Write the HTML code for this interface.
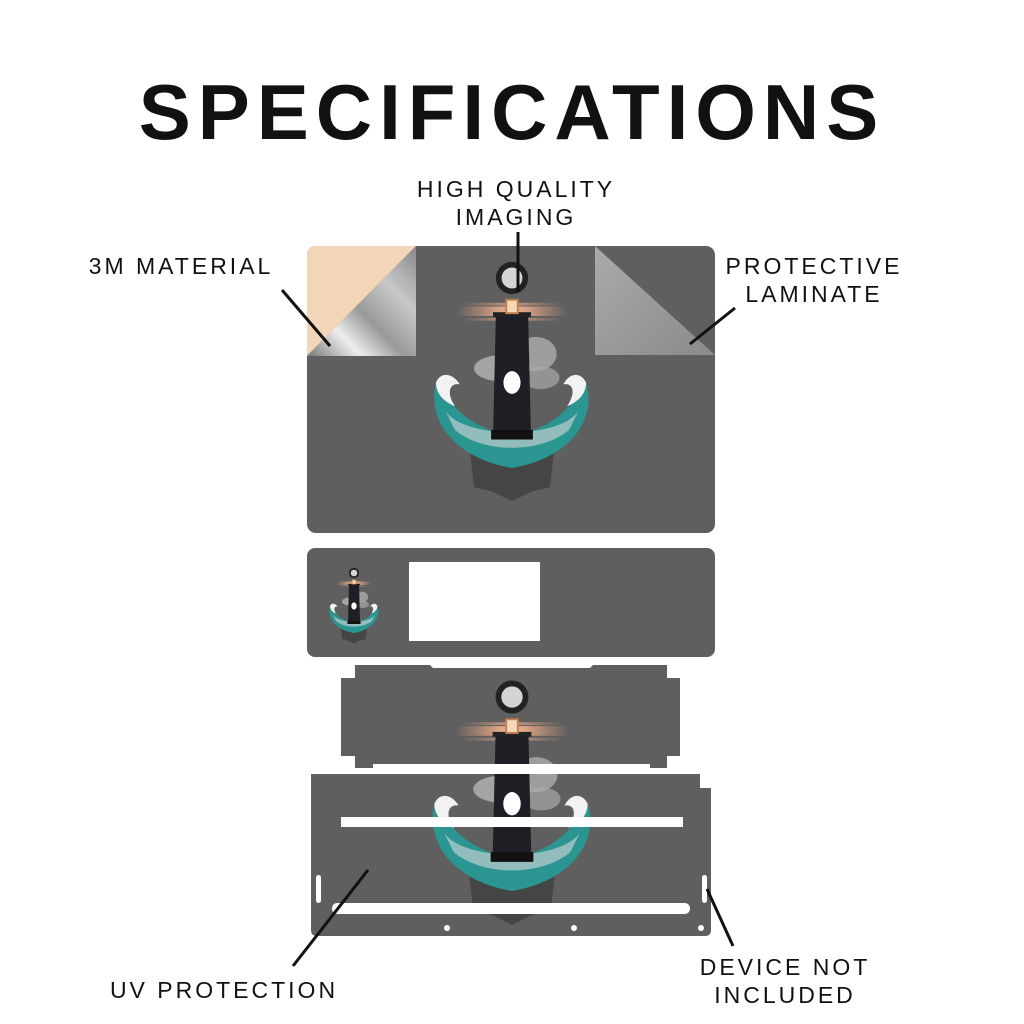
<!DOCTYPE html>
<html><head><meta charset="utf-8"><style>
html,body{margin:0;padding:0;background:#fff;}
body{width:1024px;height:1024px;position:relative;overflow:hidden;font-family:"Liberation Sans",sans-serif;}
.t{position:absolute;color:#111;font-size:23px;letter-spacing:3px;text-align:center;line-height:28px;white-space:nowrap;}
h1{position:absolute;left:0;width:1024px;top:62px;margin:0;text-align:center;font-size:78px;font-weight:900;letter-spacing:7px;color:#111;line-height:100px;}
</style></head><body>
<h1>SPECIFICATIONS</h1>
<svg width="1024" height="1024" style="position:absolute;left:0;top:0">
<defs>
<linearGradient id="curl" x1="0" y1="1" x2="1" y2="0">
<stop offset="0" stop-color="#777"/><stop offset=".25" stop-color="#eee"/><stop offset=".45" stop-color="#999"/><stop offset=".7" stop-color="#c8c8c8"/><stop offset="1" stop-color="#888"/></linearGradient>
<linearGradient id="lam" x1="0" y1="0" x2="1" y2="1">
<stop offset="0" stop-color="#aaa"/><stop offset="1" stop-color="#8a8a8a"/></linearGradient>
<linearGradient id="ray" x1="0" y1="0" x2="1" y2="0">
<stop offset="0" stop-color="#e9a27f" stop-opacity="0"/><stop offset=".4" stop-color="#f0b08e"/><stop offset=".6" stop-color="#f0b08e"/><stop offset="1" stop-color="#e9a27f" stop-opacity="0"/></linearGradient>
<g id="art">
<rect x="-58" y="30" width="116" height="10" fill="url(#ray)" opacity=".9"/>
<rect x="-52" y="26" width="104" height="3" fill="url(#ray)" opacity=".6"/>
<rect x="-52" y="42" width="104" height="3" fill="url(#ray)" opacity=".6"/>
<ellipse cx="-10" cy="95" rx="30" ry="14" fill="#b5b5b5" opacity=".8"/>
<ellipse cx="25" cy="80" rx="22" ry="18" fill="#adadad" opacity=".8"/>
<ellipse cx="30" cy="105" rx="20" ry="12" fill="#aaa" opacity=".7"/>
<path d="M-45 175 C-30 200 30 200 45 175 L40 220 L20 225 L0 235 L-20 225 L-40 220Z" fill="#333" opacity=".6"/>
<path d="M-80 110 C-90 150 -60 190 0 200 C60 190 90 150 78 110 C60 140 40 160 0 165 C-40 160 -60 140 -80 110Z" fill="#2a9591"/>
<path d="M-80 110 C-75 98 -62 100 -55 112 C-65 110 -70 120 -60 135 C-72 130 -80 122 -80 110Z" fill="#f2f2f2"/>
<path d="M78 110 C72 98 60 100 54 112 C64 110 68 120 58 135 C70 130 78 122 78 110Z" fill="#f2f2f2"/>
<path d="M-70 140 C-50 170 50 170 70 140 L60 160 C30 185 -30 185 -60 160Z" fill="#d8d8d8" opacity=".6"/>
<path d="M-17 40 L17 40 L20 168 L-20 168Z" fill="#1d1f24"/>
<rect x="-22" y="160" width="44" height="10" fill="#111"/>
<rect x="-20" y="36" width="40" height="5" fill="#222"/>
<rect x="-7" y="22" width="14" height="16" fill="#c98050"/>
<rect x="-5" y="24" width="10" height="12" fill="#f3d9b8"/>
<circle cx="0" cy="0" r="17" fill="#222"/>
<circle cx="0" cy="0" r="11" fill="#d4d4d4"/>
<ellipse cx="0" cy="110" rx="9" ry="12" fill="#fff"/>
</g>
</defs>
<!-- top panel -->
<rect x="307" y="246" width="408" height="287" rx="9" fill="#5f5f5f"/>
<path d="M316 246 L416 246 L307 356 L307 255 Q307 246 316 246Z" fill="#f3d6b8"/>
<path d="M416 246 L416 356 L307 356Z" fill="url(#curl)"/>
<path d="M595 246 L715 355 L595 355Z" fill="url(#lam)"/>
<use href="#art" transform="translate(512,278) scale(0.95)"/>
<!-- panel 2 -->
<rect x="307" y="548" width="408" height="109" rx="8" fill="#5f5f5f"/>
<rect x="409" y="562" width="131" height="79" fill="#fff"/>
<use href="#art" transform="translate(354,573) scale(0.3)"/>
<!-- panel 3 -->
<path d="M355 665 L430 665 L433 668 L590 668 L593 665 L667 665 L667 678 L680 678 L680 756 L667 756 L667 768 L650 768 L650 764 L373 764 L373 768 L355 768 L355 756 L341 756 L341 678 L355 678Z" fill="#5f5f5f"/>
<!-- panel 4 -->
<path d="M311 774 L700 774 L700 788 L711 788 L711 930 Q711 936 705 936 L317 936 Q311 936 311 930Z" fill="#5f5f5f"/>
<use href="#art" transform="translate(512,697) scale(0.97)"/>
<rect x="380" y="764" width="265" height="10" fill="#fff"/>
<rect x="341" y="817" width="342" height="10" fill="#fff"/>
<rect x="332" y="903" width="358" height="11" rx="5" fill="#fff"/>
<rect x="316" y="875" width="5" height="28" rx="2.5" fill="#fff"/>
<rect x="702" y="875" width="5" height="28" rx="2.5" fill="#fff"/>
<circle cx="447" cy="928" r="3" fill="#fff"/>
<circle cx="574" cy="928" r="3" fill="#fff"/>
<circle cx="701" cy="928" r="3" fill="#fff"/>
<!-- leaders -->
<g stroke="#111" stroke-width="3">
<line x1="282" y1="290" x2="330" y2="346"/>
<line x1="518" y1="232" x2="518" y2="292"/>
<line x1="735" y1="308" x2="690" y2="344"/>
<line x1="368" y1="870" x2="293" y2="966"/>
<line x1="707" y1="889" x2="733" y2="946"/>
</g>
</svg>
<div class="t" style="left:66px;top:252px;width:230px">3M MATERIAL</div>
<div class="t" style="left:390px;top:175px;width:252px">HIGH QUALITY<br>IMAGING</div>
<div class="t" style="left:714px;top:252px;width:200px">PROTECTIVE<br>LAMINATE</div>
<div class="t" style="left:94px;top:976px;width:260px">UV PROTECTION</div>
<div class="t" style="left:680px;top:953px;width:210px">DEVICE NOT<br>INCLUDED</div>
</body></html>
